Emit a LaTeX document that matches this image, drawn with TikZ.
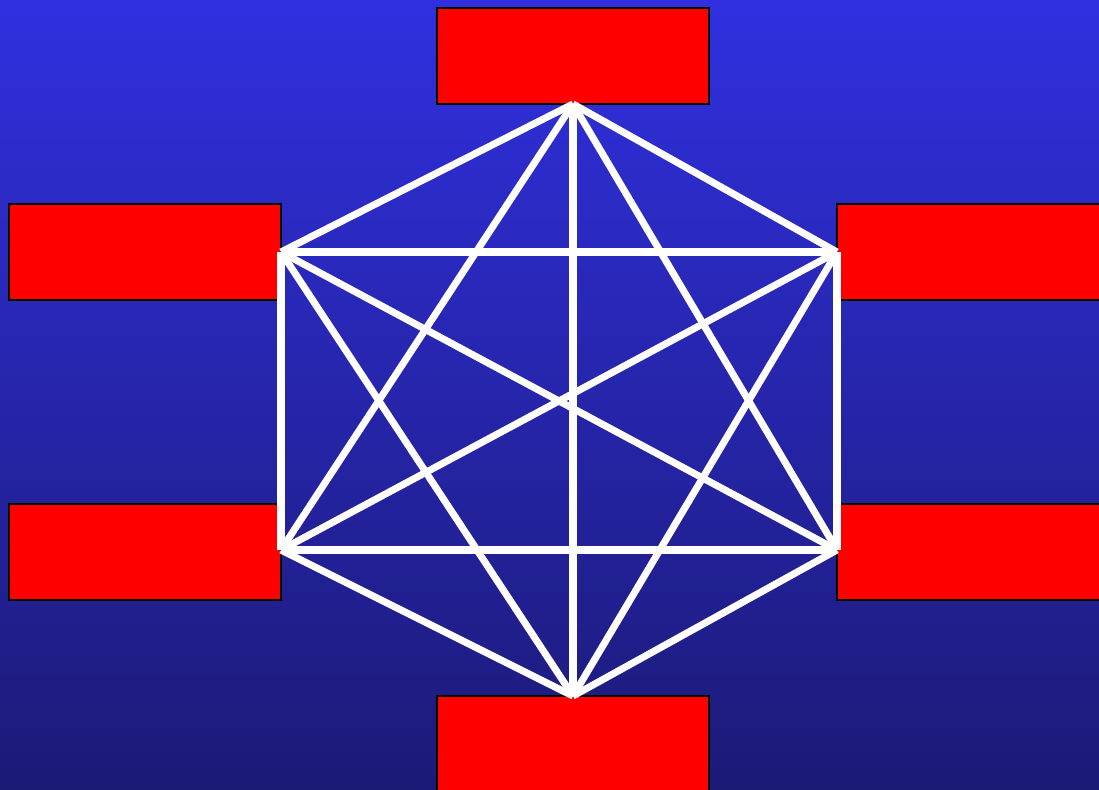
\documentclass[tikz,border=0pt]{standalone}
\definecolor{bgtop}{RGB}{48,48,224}
\definecolor{bgbot}{RGB}{28,26,118}
\definecolor{boxred}{RGB}{255,0,0}
\begin{document}
\begin{tikzpicture}[x=0.02cm,y=-0.02cm,
  redbox/.style={draw=black,line width=1.2pt,fill=boxred,minimum width=272*0.02cm,minimum height=96*0.02cm,inner sep=0pt,outer sep=0pt},
  edge/.style={draw=white,line width=4pt}]
\useasboundingbox (0,0) rectangle (1099,790);
\clip (0,0) rectangle (1099,790);
\shade[top color=bgtop,bottom color=bgbot] (0,0) rectangle (1099,790);
\node[redbox] (btop) at (573,56) {};
\node[redbox] (bul) at (145,252) {};
\node[redbox] (bll) at (145,552) {};
\node[redbox] (bur) at (973,252) {};
\node[redbox] (blr) at (973,552) {};
\node[redbox] (bbot) at (573,744) {};
\coordinate (t) at (573,104);
\coordinate (ul) at (281,252);
\coordinate (ur) at (837,252);
\coordinate (ll) at (281,550);
\coordinate (lr) at (837,550);
\coordinate (b) at (573,696);
\foreach \p/\q in {t/ul,t/ur,t/ll,t/lr,t/b,ul/ur,ul/ll,ul/lr,ul/b,ur/ll,ur/lr,ur/b,ll/lr,ll/b,lr/b}
  \draw[edge] (\p) -- (\q);
\end{tikzpicture}
\end{document}
